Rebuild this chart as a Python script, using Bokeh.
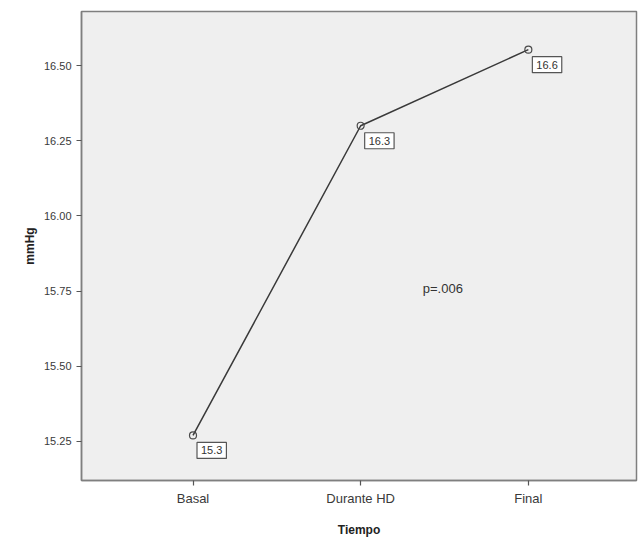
from bokeh.plotting import figure
from bokeh.models import ColumnDataSource, Label, FixedTicker, Range1d
from bokeh.core.properties import value
from bokeh.embed import file_html
from bokeh.resources import INLINE

categories = ["Basal", "Durante HD", "Final"]
means = [15.27, 16.30, 16.553]
labels = ["15.3", "16.3", "16.6"]
y_ticks = [15.25, 15.50, 15.75, 16.00, 16.25, 16.50]
p_text = "p=.006"

xs = list(range(len(categories)))
src = ColumnDataSource(dict(x=xs, y=means, lab=labels))

p = figure(width=638, height=539, output_backend="svg", toolbar_location=None,
           x_range=Range1d(-0.665, 2.645), y_range=Range1d(15.12, 16.68),
           min_border_left=81, min_border_right=2, min_border_top=11, min_border_bottom=58)
p.background_fill_color = "#efefef"
p.border_fill_color = "white"
p.outline_line_color = "#7f7f7f"
p.outline_line_width = 1.5
p.xgrid.visible = False
p.ygrid.visible = False

p.line("x", "y", source=src, line_color="#3a3a3a", line_width=1.5)
p.scatter("x", "y", source=src, size=7, marker="circle", fill_color=None,
          line_color="#4a4a4a", line_width=1.2)

p.text("x", "y", text="lab", source=src, x_offset=4, y_offset=7,
       text_align="left", text_baseline="top", text_font=value("Liberation Sans"),
       text_font_size="11px", text_color="#333333",
       background_fill_color="white", border_line_color="#555555",
       border_line_width=1.2, padding=4)

p.add_layout(Label(x=1.49, y=15.76, text=p_text, text_align="center", text_baseline="middle",
                   text_font="Liberation Sans", text_font_size="13px", text_color="#333333"))

for ax in (p.xaxis[0], p.yaxis[0]):
    ax.axis_line_color = "#7f7f7f"
    ax.axis_line_width = 1.5
    ax.major_tick_line_color = "#555555"
    ax.major_tick_line_width = 1.2
    ax.major_tick_out = 5
    ax.major_tick_in = 0
    ax.minor_tick_line_color = None
    ax.major_label_text_font = "Liberation Sans"
    ax.major_label_text_color = "#3a3a3a"
    ax.axis_label_text_font = "Liberation Sans"
    ax.axis_label_text_font_style = "bold"
    ax.axis_label_text_font_size = "12px"
    ax.axis_label_text_color = "#222222"

p.xaxis.ticker = FixedTicker(ticks=xs)
p.xaxis.major_label_overrides = {i: c for i, c in enumerate(categories)}
p.xaxis.major_label_text_font_size = "13px"
p.xaxis.axis_label = "Tiempo"
p.xaxis.axis_label_standoff = 14

p.yaxis.ticker = FixedTicker(ticks=y_ticks)
p.yaxis.major_label_overrides = {t: f"{t:.2f}" for t in y_ticks}
p.yaxis.major_label_text_font_size = "11px"
p.yaxis.axis_label = "mmHg"
p.yaxis.axis_label_standoff = 4

open("out.html", "w").write(file_html(p, INLINE))
